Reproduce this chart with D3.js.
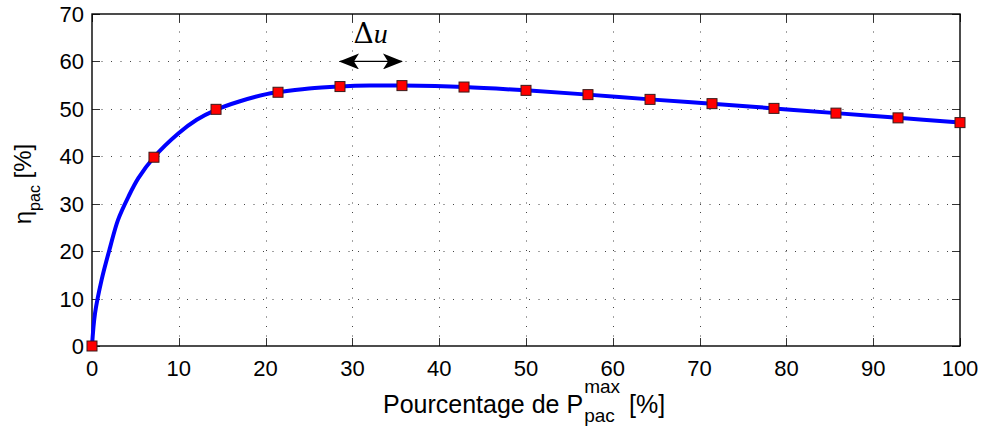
<!DOCTYPE html>
<html><head><meta charset="utf-8">
<script src="https://cdn.jsdelivr.net/npm/d3@7"></script>
<style>body{margin:0;background:#fff}svg{display:block}text{font-family:"Liberation Sans",Arial,sans-serif;fill:#000}</style>
</head><body>
<svg id="c" width="985" height="430"></svg>
<script>
// Data
const markerX = [0, 7.14, 14.29, 21.43, 28.57, 35.71, 42.86, 50, 57.14, 64.29, 71.43, 78.57, 85.71, 92.86, 100];
const markerY = [0, 39.8, 49.9, 53.5, 54.7, 54.9, 54.6, 53.9, 53.0, 52.0, 51.1, 50.1, 49.1, 48.1, 47.1];
const curveX = [0, 0.35, 1.1, 2.1, 3.0, 4.2, 5.34, 7.14, 9.94, 12.06, 14.29, 17.05, 20.1, 21.43, 25, 28.57, 32, 35.71, 42.86, 50, 57.14, 64.29, 71.43, 78.57, 85.71, 92.86, 100];
const curveY = [0, 6.9, 13.9, 20.9, 26.6, 31.5, 35.4, 39.8, 44.8, 47.7, 49.8, 51.6, 53.1, 53.5, 54.3, 54.7, 54.9, 54.9, 54.6, 53.9, 53.0, 52.0, 51.1, 50.1, 49.1, 48.1, 47.1];
const xTicks = [0, 10, 20, 30, 40, 50, 60, 70, 80, 90, 100];
const yTicks = [0, 10, 20, 30, 40, 50, 60, 70];
const arrowX = [28.57, 35.71];
const arrowY = 60;
const deltaLabelPos = [32.1, 63.9];

const L = 92, R = 960, T = 14, B = 346;
const svg = d3.select("#c");
const x = d3.scaleLinear().domain([0, 100]).range([L, R]);
const y = d3.scaleLinear().domain([0, 70]).range([B, T]);

// grid
const grid = svg.append("g").attr("stroke", "#444").attr("stroke-width", 1).attr("stroke-dasharray", "1,8.5");
grid.selectAll("line.vx").data(xTicks.slice(1, -1)).join("line")
  .attr("x1", d => Math.round(x(d)) + 0.5).attr("x2", d => Math.round(x(d)) + 0.5).attr("y1", B).attr("y2", T);
grid.selectAll("line.hy").data(yTicks.slice(1, -1)).join("line")
  .attr("y1", d => Math.round(y(d)) + 0.5).attr("y2", d => Math.round(y(d)) + 0.5).attr("x1", L).attr("x2", R);

// ticks (inward, mirrored)
const tk = svg.append("g").attr("stroke", "#333").attr("stroke-width", 1);
xTicks.forEach(d => {
  const px = Math.round(x(d)) + 0.5;
  tk.append("line").attr("x1", px).attr("x2", px).attr("y1", B).attr("y2", B - 8);
  tk.append("line").attr("x1", px).attr("x2", px).attr("y1", T).attr("y2", T + 8);
});
yTicks.forEach(d => {
  const py = Math.round(y(d)) + 0.5;
  tk.append("line").attr("x1", L).attr("x2", L + 8).attr("y1", py).attr("y2", py);
  tk.append("line").attr("x1", R).attr("x2", R - 8).attr("y1", py).attr("y2", py);
});

// box
svg.append("rect").attr("x", L).attr("y", T).attr("width", R - L).attr("height", B - T)
  .attr("fill", "none").attr("stroke", "#000").attr("stroke-width", 1.4);

// tick labels
svg.append("g").selectAll("text").data(xTicks).join("text")
  .attr("x", d => x(d)).attr("y", B + 30).attr("text-anchor", "middle")
  .attr("font-size", 22).text(d => d);
svg.append("g").selectAll("text").data(yTicks).join("text")
  .attr("x", L - 8).attr("y", d => y(d) + 8).attr("text-anchor", "end")
  .attr("font-size", 22).text(d => d);

// x axis label
const xMain = svg.append("text").attr("x", 383).attr("y", 413).attr("font-size", 25).text("Pourcentage de P");
const xEnd = 383 + xMain.node().getComputedTextLength() + 1;
svg.append("text").attr("x", xEnd).attr("y", 393).attr("font-size", 19).text("max");
svg.append("text").attr("x", xEnd).attr("y", 422).attr("font-size", 19).text("pac");
svg.append("text").attr("x", 629).attr("y", 413).attr("font-size", 25).text("[%]");

// y axis label
const yl = svg.append("text").attr("transform", "translate(31,184) rotate(-90)")
  .attr("text-anchor", "middle").attr("font-size", 24);
yl.append("tspan").text("η");
yl.append("tspan").attr("font-size", 16).attr("dy", 9).text("pac");
yl.append("tspan").attr("dy", -9).text(" [%]");

// curve
const line = d3.line().x(d => x(d[0])).y(d => y(d[1])).curve(d3.curveCatmullRom.alpha(0.5));
svg.append("path").datum(curveX.map((v, i) => [v, curveY[i]]))
  .attr("d", line).attr("fill", "none").attr("stroke", "#0000ff").attr("stroke-width", 4);

// markers
svg.append("g").selectAll("rect").data(markerX.map((v, i) => [v, markerY[i]])).join("rect")
  .attr("x", d => x(d[0]) - 5).attr("y", d => y(d[1]) - 5).attr("width", 10).attr("height", 10)
  .attr("fill", "#ff0000").attr("stroke", "#3a1a1a").attr("stroke-width", 1);

// annotation: double arrow
const defs = svg.append("defs");
defs.append("marker").attr("id", "ah").attr("viewBox", "0 0 20 16").attr("refX", 19).attr("refY", 8)
  .attr("markerWidth", 20).attr("markerHeight", 16).attr("markerUnits", "userSpaceOnUse").attr("orient", "auto-start-reverse")
  .append("path").attr("d", "M0,0 L20,8 L0,16 L5,8 Z").attr("fill", "#000");
svg.append("line").attr("x1", x(arrowX[0])).attr("x2", x(arrowX[1]))
  .attr("y1", y(arrowY)).attr("y2", y(arrowY)).attr("stroke", "#000").attr("stroke-width", 1.2)
  .attr("marker-start", "url(#ah)").attr("marker-end", "url(#ah)");
const dl = svg.append("text").attr("x", x(deltaLabelPos[0])).attr("y", y(deltaLabelPos[1]))
  .attr("text-anchor", "middle").attr("font-size", 28).style("font-family", "'DejaVu Serif','Liberation Serif',serif");
dl.append("tspan").text("Δ");
dl.append("tspan").attr("font-style", "italic").style("font-family", "'Liberation Serif',serif").text("u");
</script>
</body></html>
